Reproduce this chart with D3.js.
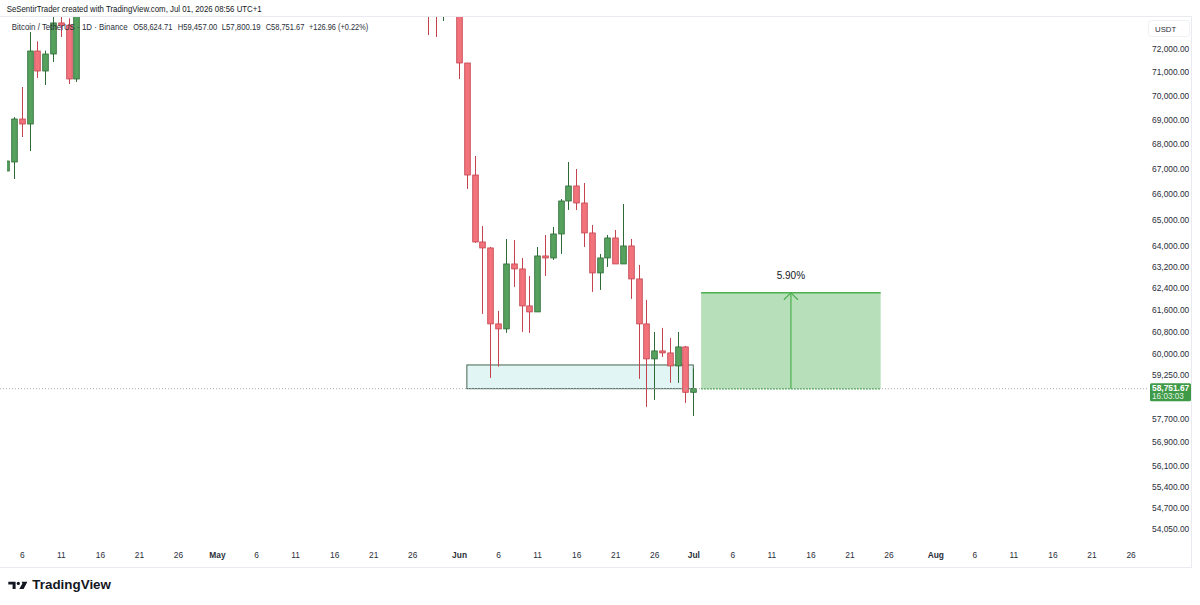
<!DOCTYPE html>
<html><head><meta charset="utf-8">
<script src="https://cdn.jsdelivr.net/npm/d3@7"></script>
<style>
body{margin:0;background:#fff;}
svg{display:block;font-family:"Liberation Sans",Arial,sans-serif;}
</style>
</head><body>
<svg id="chart" width="1200" height="605"></svg>
<script>
// ---------- DATA ----------
const candleDates = [
  "2026-04-04","2026-04-05","2026-04-06","2026-04-07","2026-04-08","2026-04-09","2026-04-10",
  "2026-04-11","2026-04-12","2026-04-13",
  "2026-05-28","2026-05-29","2026-05-30","2026-05-31",
  "2026-06-01","2026-06-02","2026-06-03","2026-06-04","2026-06-05","2026-06-06","2026-06-07",
  "2026-06-08","2026-06-09","2026-06-10","2026-06-11","2026-06-12","2026-06-13","2026-06-14",
  "2026-06-15","2026-06-16","2026-06-17","2026-06-18","2026-06-19","2026-06-20","2026-06-21",
  "2026-06-22","2026-06-23","2026-06-24","2026-06-25","2026-06-26","2026-06-27","2026-06-28",
  "2026-06-29","2026-06-30","2026-07-01"
];
const opens = [
  66911,67272,69022,68816,71884,71030,71755,
  73100,73000,70692,
  74600,74300,74000,74400,
  74100,71371,66751,64134,63905,61070,60888,
  63297,63109,61730,61509,63600,63524,64441,
  65723,66315,65645,64480,62958,63524,64287,
  63297,63981,62733,61070,59806,60092,60020,
  59556,60236,58624.71
];
const highs = [
  67380,69104,70355,72705,72300,71900,73400,
  73500,73300,74600,
  75200,74800,74900,75000,
  74500,71371,67513,64750,63943,61546,64249,
  64210,63524,62845,63943,64403,64711,65801,
  67272,66991,66433,64789,63676,64403,64595,
  65606,64249,63260,61952,60779,60924,60561,
  60779,60272,59457.00
];
const lows = [
  66850,66592,68284,67715,70734,70439,71413,
  72488,70481,70565,
  72575,72488,73184,73600,
  70692,66196,64100,61436,59131,59530,60742,
  62434,60779,60742,61509,62845,63449,63676,
  65372,65372,63943,62248,62322,63184,63297,
  63297,61989,59096,58116,58359,59877,58955,
  58955,58255,57800.19
];
const closes = [
  67312,69022,68816,71884,71030,71755,73100,
  73000,70692,74200,
  74300,74000,74400,74100,
  71371,66751,64134,63905,61070,60888,63297,
  63109,61730,61509,63600,63524,64441,65723,
  66315,65645,64480,62958,63524,64287,63297,
  63981,62733,61070,59806,60092,60020,59556,
  60236,58624.71,58751.67
];
const priceTicks = [72000,71000,70000,69000,68000,67000,66000,65000,64000,63200,62400,61600,60800,60000,59250,57700,56900,56100,55400,54700,54050];
const dateTicks = ["2026-04-06","2026-04-11","2026-04-16","2026-04-21","2026-04-26","2026-05-01","2026-05-06","2026-05-11","2026-05-16","2026-05-21","2026-05-26","2026-06-01","2026-06-06","2026-06-11","2026-06-16","2026-06-21","2026-06-26","2026-07-01","2026-07-06","2026-07-11","2026-07-16","2026-07-21","2026-07-26","2026-08-01","2026-08-06","2026-08-11","2026-08-16","2026-08-21","2026-08-26"];
const dateTickLabels = ["6","11","16","21","26","May","6","11","16","21","26","Jun","6","11","16","21","26","Jul","6","11","16","21","26","Aug","6","11","16","21","26"];
const lastPrice = 58751.67;
const countdown = "16:03:03";
const zoneDates = ["2026-06-02","2026-07-01"];
const zonePrices = [59590, 58751.67];
const measureDates = ["2026-07-02","2026-07-25"];
const measurePct = 5.90;
const headerText = "SeSentirTrader created with TradingView.com, Jul 01, 2026 08:56 UTC+1";
const legendParts = ["Bitcoin / TetherUS · 1D · Binance","O58,624.71","H59,457.00","L57,800.19","C58,751.67","+126.96 (+0.22%)"];

// ---------- LAYOUT ----------
const W = 1200, H = 605;
const plot = {left:0, right:1147, top:17, bottom:545};
const parse = d3.utcParse("%Y-%m-%d");
const x = d3.scaleUtc().domain([parse("2026-04-05"), parse("2026-07-01")]).range([14, 693.3]);
const y = d3.scaleLog().domain([54050, 72000]).range([528.3, 48.3]);
const bodyW = 5.6;

const data = candleDates.map((d,i)=>({date:parse(d), o:opens[i], h:highs[i], l:lows[i], c:closes[i]}));

const svg = d3.select("#chart");
svg.append("rect").attr("width",W).attr("height",H).attr("fill","#fff");

// frame
const frame = svg.append("g").attr("stroke","#e9ebf0").attr("fill","none").attr("stroke-width",1);
frame.append("line").attr("x1",0).attr("x2",1192).attr("y1",16.5).attr("y2",16.5);
frame.append("line").attr("x1",1191.5).attr("x2",1191.5).attr("y1",16.5).attr("y2",567.5);
frame.append("line").attr("x1",0).attr("x2",1192).attr("y1",567.5).attr("y2",567.5);

svg.append("defs").append("clipPath").attr("id","clip")
  .append("rect").attr("x",7).attr("y",plot.top).attr("width",plot.right-7).attr("height",plot.bottom-plot.top);

const g = svg.append("g").attr("clip-path","url(#clip)");

// zone rectangle
g.append("rect")
  .attr("x", x(parse(zoneDates[0])))
  .attr("y", y(zonePrices[0]))
  .attr("width", x(parse(zoneDates[1])) - x(parse(zoneDates[0])))
  .attr("height", y(zonePrices[1]) - y(zonePrices[0]))
  .attr("fill","#e2f5f5").attr("stroke","#45634f").attr("stroke-width",1);

// last price dotted line
svg.append("line").attr("x1",plot.left).attr("x2",plot.right)
  .attr("y1",y(lastPrice)).attr("y2",y(lastPrice))
  .attr("stroke","#a9adb4").attr("stroke-width",1).attr("stroke-dasharray","1,2");

// measure box
const mx0 = x(parse(measureDates[0])), mx1 = x(parse(measureDates[1]));
const mTop = y(lastPrice*(1+measurePct/100)), mBot = y(lastPrice);
const mc = (mx0+mx1)/2;
g.append("rect").attr("x",mx0).attr("y",mTop).attr("width",mx1-mx0).attr("height",mBot-mTop)
  .attr("fill","#b7dfb9");
g.append("line").attr("x1",mx0).attr("x2",mx1).attr("y1",mTop).attr("y2",mTop).attr("stroke","#4caf50").attr("stroke-width",1.5);
g.append("line").attr("x1",mx0).attr("x2",mx1).attr("y1",mBot).attr("y2",mBot).attr("stroke","#4caf50").attr("stroke-width",1.5).attr("stroke-dasharray","2,1");
g.append("line").attr("x1",mc).attr("x2",mc).attr("y1",mBot).attr("y2",mTop).attr("stroke","#4caf50").attr("stroke-width",1.2);
g.append("path").attr("d",`M${mc-7},${mTop+7}L${mc},${mTop}L${mc+7},${mTop+7}`).attr("fill","none").attr("stroke","#4caf50").attr("stroke-width",1.2);
g.append("text").attr("x",mc).attr("y",mTop-13.5).attr("text-anchor","middle").attr("font-size",10).attr("fill","#131722").text(measurePct.toFixed(2)+"%");

// candles
const up = {fill:"#56a15d", stroke:"#2e6a35"}, dn = {fill:"#f2737c", stroke:"#c4434e"};
const cg = g.append("g").selectAll("g").data(data).join("g");
cg.append("line")
  .attr("x1",d=>Math.round(x(d.date))+0.5).attr("x2",d=>Math.round(x(d.date))+0.5)
  .attr("y1",d=>y(d.h)).attr("y2",d=>y(d.l))
  .attr("stroke",d=>d.c>=d.o?up.stroke:dn.stroke).attr("stroke-width",1);
cg.append("rect")
  .attr("x",d=>Math.round(x(d.date))+0.5-bodyW/2)
  .attr("y",d=>y(Math.max(d.o,d.c)))
  .attr("width",bodyW)
  .attr("height",d=>Math.max(1.5,Math.abs(y(d.o)-y(d.c))))
  .attr("fill",d=>d.c>=d.o?up.fill:dn.fill)
  .attr("stroke",d=>d.c>=d.o?up.stroke:dn.stroke).attr("stroke-width",0.8);

// ---------- AXES ----------
const yAxis = d3.axisRight(y).tickValues(priceTicks).tickFormat(d3.format(",.2f")).tickSize(0).tickPadding(0);
const ya = svg.append("g").attr("transform","translate(1152,0)").call(yAxis);
ya.select(".domain").remove();
ya.selectAll("text").attr("font-size",8.4).attr("fill","#2a2e39").attr("font-family","Liberation Sans, Arial, sans-serif");

const xAxis = d3.axisBottom(x).tickValues(dateTicks.map(parse)).tickFormat((d,i)=>dateTickLabels[i]).tickSize(0).tickPadding(0);
const xa = svg.append("g").attr("transform","translate(0,552)").call(xAxis);
xa.select(".domain").remove();
xa.selectAll("text").attr("font-size",8.4).attr("fill","#2a2e39").attr("font-family","Liberation Sans, Arial, sans-serif")
  .attr("font-weight",(d,i)=>/[A-Za-z]/.test(dateTickLabels[i])?"bold":"normal");

// USDT label
svg.append("rect").attr("x",1148.5).attr("y",20.5).attr("width",41).attr("height",16).attr("rx",3)
  .attr("fill","#fff").attr("stroke","#eef0f3");
svg.append("text").attr("x",1155).attr("y",31.5).attr("font-size",7.8).attr("fill","#2a2e39").text("USDT");

// last price label
const ly = y(lastPrice);
svg.append("rect").attr("x",1150).attr("y",ly-5.5).attr("width",41).attr("height",18).attr("rx",1.5).attr("fill","#3e9a46");
svg.append("text").attr("x",1152).attr("y",ly+2.5).attr("font-size",8.4).attr("font-weight","bold").attr("fill","#fff").text(d3.format(",.2f")(lastPrice));
svg.append("text").attr("x",1152).attr("y",ly+10.8).attr("font-size",8.2).attr("fill","#e3f2e4").text(countdown);

// ---------- HEADER / LEGEND ----------
svg.append("text").attr("x",6.7).attr("y",12.3).attr("font-size",8.6).attr("fill","#131722")
  .attr("textLength",255).attr("lengthAdjust","spacingAndGlyphs").text(headerText);
const legendX = [[11.7,127.7],[133.3,172.3],[177.7,217.3],[221.7,260.7],[265.7,304.3],[309,368.3]];
legendParts.forEach((t,i)=>{
  svg.append("text").attr("x",legendX[i][0]).attr("y",29.8).attr("font-size",8.6).attr("fill","#2a2e39")
    .attr("textLength",legendX[i][1]-legendX[i][0]).attr("lengthAdjust","spacingAndGlyphs").text(t);
});

// ---------- TRADINGVIEW LOGO ----------
const logo = svg.append("g").attr("fill","#131722");
logo.append("path").attr("d","M8.3,581.8H15.6V589H12.6V584.6H8.3Z");
logo.append("circle").attr("cx",18.3).attr("cy",583.4).attr("r",1.6);
logo.append("path").attr("d","M21.6,581.8H27.4L23.6,589H19.3L22.4,583.6Z");
svg.append("text").attr("x",32.3).attr("y",589.4).attr("font-size",12.8).attr("font-weight","bold").attr("fill","#131722")
  .attr("textLength",78.7).attr("lengthAdjust","spacingAndGlyphs").text("TradingView");
</script>
</body></html>
